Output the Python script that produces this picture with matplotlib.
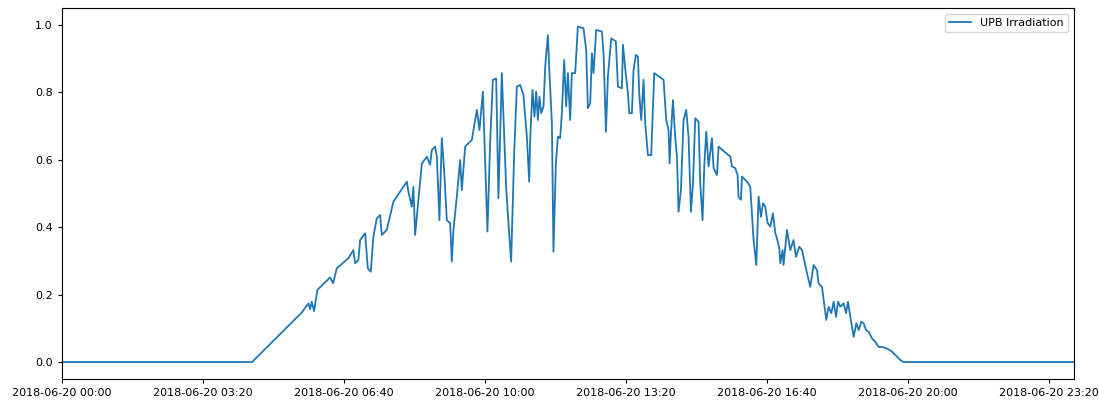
import numpy as np
import pandas as pd
import matplotlib
matplotlib.use('Agg')
from matplotlib import pyplot as plt
import matplotlib.dates as mdates

# minutes after 2018-06-20 00:00
minutes = [0, 270.1, 340.6, 349.9, 352.3, 354.7, 358.0, 362.7, 380.7, 385.0,
           390.2, 406.7, 413.7, 416.2, 420.8, 423.3, 430.4, 434.2, 438.4, 442.1,
           446.9, 451.6, 454.0, 461.1, 470.5, 489.5, 491.8, 496.6, 498.8, 501.3,
           503.7, 510.8, 517.9, 522.5, 525.0, 529.6, 532.1, 535.7, 539.1, 542.4,
           546.2, 550.9, 553.3, 555.6, 560.4, 565.1, 567.5, 572.2, 576.9, 581.7,
           584.0, 588.8, 592.5, 597.3, 603.8, 607.6, 611.5, 616.2, 619.4, 624.2,
           630.3, 633.6, 637.4, 641.7, 645.5, 650.2, 654.9, 659.7, 663.0, 664.4,
           667.6, 670.5, 672.9, 675.3, 677.6, 680.0, 683.3, 685.7, 689.5, 691.3,
           695.2, 697.4, 700.8, 703.7, 706.9, 709.3, 712.6, 715.4, 717.9, 721.1,
           723.5, 728.2, 732.0, 740.0, 743.8, 746.2, 749.5, 751.9, 754.2, 758.0,
           766.1, 768.4, 771.8, 774.6, 779.3, 785.9, 788.8, 794.4, 795.9, 799.1,
           803.0, 804.8, 808.6, 810.9, 814.3, 817.2, 819.0, 821.8, 825.1, 827.5,
           831.3, 836.0, 840.3, 853.5, 857.3, 860.6, 862.0, 864.0, 866.8, 870.0,
           872.5, 874.7, 878.1, 881.8, 885.6, 888.9, 892.3, 895.2, 898.4, 903.1,
           905.5, 908.8, 911.2, 914.0, 917.3, 922.1, 924.4, 929.2, 931.5, 948.1,
           950.5, 955.2, 958.4, 959.8, 963.2, 964.7, 971.8, 976.4, 981.1, 985.0,
           988.2, 991.6, 994.5, 997.7, 1001.0, 1004.8, 1008.6, 1011.9, 1014.3, 1017.6,
           1019.0, 1022.2, 1023.6, 1028.5, 1033.1, 1037.8, 1041.2, 1045.9, 1049.8, 1056.9,
           1061.5, 1066.2, 1071.0, 1073.3, 1078.1, 1081.8, 1084.2, 1087.5, 1091.3, 1094.6,
           1098.0, 1100.8, 1104.1, 1108.8, 1112.2, 1115.0, 1118.3, 1123.0, 1126.8, 1130.1,
           1133.9, 1137.1, 1140.6, 1144.2, 1149.1, 1153.7, 1158.4, 1163.2, 1170.3, 1177.4,
           1182.1, 1189.2, 1193.9, 1435]

irradiation = [0, 0, 0.147, 0.174, 0.157, 0.179, 0.151, 0.214, 0.251, 0.234,
               0.278, 0.308, 0.332, 0.293, 0.302, 0.362, 0.382, 0.278, 0.268, 0.372,
               0.426, 0.436, 0.377, 0.392, 0.476, 0.535, 0.505, 0.461, 0.520, 0.377,
               0.431, 0.589, 0.609, 0.585, 0.629, 0.639, 0.609, 0.421, 0.664, 0.570,
               0.421, 0.412, 0.298, 0.392, 0.491, 0.599, 0.510, 0.639, 0.649, 0.659,
               0.688, 0.748, 0.688, 0.802, 0.387, 0.649, 0.837, 0.841, 0.486, 0.857,
               0.520, 0.412, 0.298, 0.619, 0.817, 0.822, 0.792, 0.669, 0.535, 0.659,
               0.807, 0.728, 0.802, 0.718, 0.787, 0.738, 0.758, 0.876, 0.970, 0.876,
               0.708, 0.327, 0.589, 0.669, 0.664, 0.738, 0.896, 0.758, 0.857, 0.718,
               0.857, 0.857, 0.995, 0.990, 0.926, 0.753, 0.767, 0.916, 0.857, 0.985,
               0.980, 0.916, 0.683, 0.847, 0.960, 0.951, 0.817, 0.812, 0.941, 0.871,
               0.797, 0.738, 0.738, 0.866, 0.911, 0.906, 0.797, 0.718, 0.837, 0.708,
               0.614, 0.614, 0.857, 0.837, 0.718, 0.688, 0.589, 0.678, 0.777, 0.668,
               0.609, 0.446, 0.510, 0.718, 0.748, 0.668, 0.446, 0.530, 0.723, 0.713,
               0.530, 0.421, 0.580, 0.683, 0.580, 0.664, 0.575, 0.555, 0.639, 0.609,
               0.580, 0.575, 0.555, 0.491, 0.481, 0.550, 0.535, 0.520, 0.362, 0.288,
               0.491, 0.431, 0.471, 0.461, 0.412, 0.402, 0.441, 0.382, 0.367, 0.337,
               0.293, 0.332, 0.288, 0.392, 0.332, 0.362, 0.312, 0.342, 0.332, 0.263,
               0.223, 0.288, 0.273, 0.233, 0.223, 0.164, 0.125, 0.164, 0.145, 0.179,
               0.134, 0.179, 0.164, 0.174, 0.145, 0.179, 0.134, 0.075, 0.115, 0.095,
               0.120, 0.115, 0.095, 0.090, 0.070, 0.060, 0.045, 0.045, 0.040, 0.031,
               0.021, 0.006, 0.0, 0.0]

day = pd.Timestamp('2018-06-20 00:00')
times = day + pd.to_timedelta(minutes, unit='m')

fig = plt.figure(figsize=(10.99, 4.01), dpi=100)
ax = fig.add_axes([0.056, 0.055, 0.921, 0.925])
ax.plot(times, irradiation, color='#1f77b4', lw=1.3, label='UPB Irradiation')

ax.set_xlim(times[0], times[-1])
ax.set_ylim(-0.05, 1.05)
ax.set_xticks(pd.date_range(day, periods=8, freq='200min'))
ax.xaxis.set_major_formatter(mdates.DateFormatter('%Y-%m-%d %H:%M'))
ax.tick_params(labelsize=8, length=3)
ax.set_yticks(np.arange(0, 1.01, 0.2))
ax.legend(loc='upper right', fontsize=8)

fig.savefig('out.png', dpi=100)
